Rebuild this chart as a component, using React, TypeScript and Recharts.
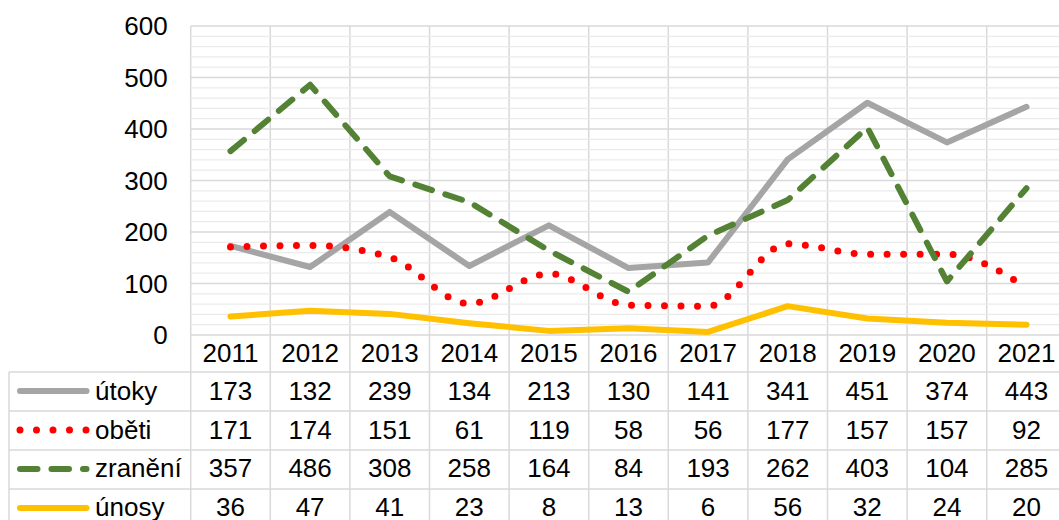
import { LineChart, Line, XAxis, YAxis, CartesianGrid, ReferenceLine } from 'recharts'

const CATEGORIES = ['2011', '2012', '2013', '2014', '2015', '2016', '2017', '2018', '2019', '2020', '2021']
const UTOKY = [173, 132, 239, 134, 213, 130, 141, 341, 451, 374, 443]
const OBETI = [171, 174, 151, 61, 119, 58, 56, 177, 157, 157, 92]
const ZRANENI = [357, 486, 308, 258, 164, 84, 193, 262, 403, 104, 285]
const UNOSY = [36, 47, 41, 23, 8, 13, 6, 56, 32, 24, 20]

const Y_TICKS = [0, 100, 200, 300, 400, 500, 600]
const MINOR_TICKS = [
  20, 40, 60, 80, 120, 140, 160, 180, 220, 240, 260, 280,
  320, 340, 360, 380, 420, 440, 460, 480, 520, 540, 560, 580,
]

// chart geometry (matches the Excel layout)
const PLOT_LEFT = 190.7
const CAT_W = 79.6
const PLOT_TOP = 26
const PLOT_BOTTOM = 335
const CHART_W = 1080
const CHART_H = 372
const FONT = '"Liberation Sans", Arial, sans-serif'
const FONT_SIZE = 26

const data = CATEGORIES.map((year, i) => ({
  idx: i,
  year,
  utoky: UTOKY[i],
  obeti: OBETI[i],
  zraneni: ZRANENI[i],
  unosy: UNOSY[i],
}))

// category boundaries for the vertical gridlines
const BOUNDARY_TICKS = [-0.5, ...CATEGORIES.map((_, i) => i + 0.5)]

const SERIES = [
  { key: 'utoky', name: 'útoky', values: UTOKY, color: '#a5a5a5', width: 6, dash: undefined, type: 'linear' },
  { key: 'obeti', name: 'oběti', values: OBETI, color: '#ff0000', width: 7, dash: '0 16.5', type: 'monotone' },
  { key: 'zraneni', name: 'zranění', values: ZRANENI, color: '#548235', width: 6, dash: '17.5 14', type: 'linear' },
  { key: 'unosy', name: 'únosy', values: UNOSY, color: '#ffc000', width: 6, dash: undefined, type: 'linear' },
] as const

const ROW_TOP = 372
const ROW_H = 39
const TABLE_LEFT = 9

function DataTable() {
  const colX = (k: number) => PLOT_LEFT + k * CAT_W
  const lineColor = '#d9d9d9'
  return (
    <svg
      width={1059}
      height={520}
      style={{ position: 'absolute', left: 0, top: 0, pointerEvents: 'none' }}
      fontFamily={FONT}
      fontSize={FONT_SIZE}
    >
      {/* vertical lines below the plot */}
      {[...CATEGORIES, ''].map((_, k) => (
        <line key={`v-${k}`} x1={colX(k)} x2={colX(k)} y1={PLOT_BOTTOM} y2={ROW_TOP + 4 * ROW_H} stroke={lineColor} strokeWidth={1.5} />
      ))}
      <line x1={TABLE_LEFT} x2={TABLE_LEFT} y1={ROW_TOP} y2={ROW_TOP + 4 * ROW_H} stroke={lineColor} strokeWidth={1.5} />
      {[0, 1, 2, 3, 4].map((r) => (
        <line key={`h-${r}`} x1={TABLE_LEFT} x2={CHART_W} y1={ROW_TOP + r * ROW_H} y2={ROW_TOP + r * ROW_H} stroke={lineColor} strokeWidth={1.5} />
      ))}

      {/* years */}
      {CATEGORIES.map((y, i) => (
        <text key={y} x={colX(i + 0.5)} y={362} textAnchor="middle" fill="#000">
          {y}
        </text>
      ))}

      {/* rows */}
      {SERIES.map((s, r) => {
        const base = 400 + r * 38.5
        const midY = ROW_TOP + r * ROW_H + ROW_H / 2 - 0.5
        return (
          <g key={s.key}>
            <line
              x1={20}
              x2={86.5}
              y1={midY}
              y2={midY}
              stroke={s.color}
              strokeWidth={s.width}
              strokeDasharray={s.dash}
              strokeLinecap="round"
            />
            <text x={95} y={base} fill="#000">
              {s.name}
            </text>
            {s.values.map((v, i) => (
              <text key={i} x={colX(i + 0.5)} y={base} textAnchor="middle" fill="#000">
                {v}
              </text>
            ))}
          </g>
        )
      })}
    </svg>
  )
}

export default function App() {
  return (
    <div
      style={{
        position: 'absolute',
        left: 0,
        top: 0,
        width: 1059,
        height: 520,
        overflow: 'hidden',
        background: '#fff',
      }}
    >
      <LineChart
        width={CHART_W}
        height={CHART_H}
        data={data}
        margin={{ top: PLOT_TOP, right: CHART_W - PLOT_LEFT - CATEGORIES.length * CAT_W, left: 0, bottom: CHART_H - PLOT_BOTTOM }}
      >
        {/* minor gridlines every 20 */}
        {MINOR_TICKS.map((t) => (
          <ReferenceLine key={t} y={t} stroke="#ebebeb" strokeWidth={1.3} zIndex={-90} />
        ))}
        <CartesianGrid stroke="#d9d9d9" strokeWidth={1.5} />
        <XAxis
          dataKey="idx"
          type="number"
          domain={[-0.5, CATEGORIES.length - 0.5]}
          ticks={BOUNDARY_TICKS}
          hide
        />
        <YAxis
          width={PLOT_LEFT}
          domain={[0, 600]}
          ticks={Y_TICKS}
          interval={0}
          axisLine={false}
          tickLine={false}
          tickSize={0}
          tickMargin={23}
          tick={{ fill: '#000', fontSize: FONT_SIZE, fontFamily: FONT }}
        />
        {SERIES.map((s) => (
          <Line
            key={s.key}
            type={s.type}
            dataKey={s.key}
            stroke={s.color}
            strokeWidth={s.width}
            strokeDasharray={s.dash}
            strokeLinecap="round"
            strokeLinejoin="round"
            dot={false}
            activeDot={false}
            isAnimationActive={false}
          />
        ))}
      </LineChart>
      <DataTable />
    </div>
  )
}
